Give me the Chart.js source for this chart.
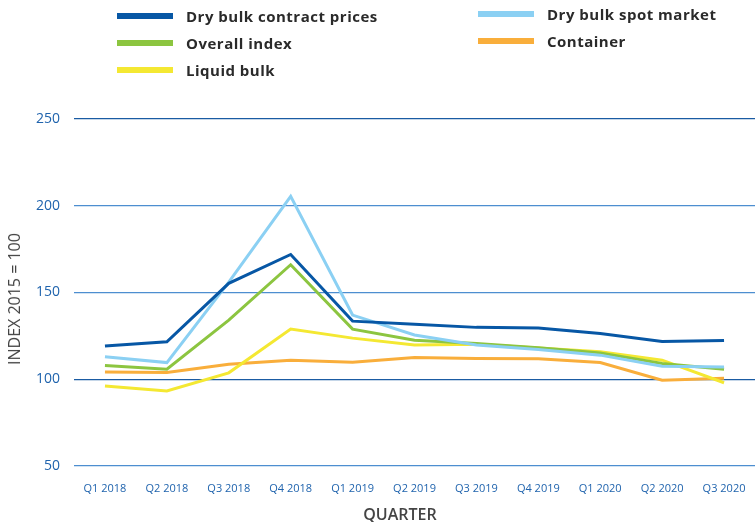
<!DOCTYPE html>
<html>
<head>
<meta charset="utf-8">
<script src="https://cdn.jsdelivr.net/npm/chart.js@4.4.1/dist/chart.umd.min.js"></script>
<style>
    body { margin: 0; background: #fff; }
    #wrap { position: relative; width: 755px; height: 522px; overflow: hidden; }
    #chart { position: absolute; left: 0; top: 0; }
    .leg { position: absolute; display: flex; align-items: center; height: 20px; white-space: nowrap;
           font-family: "Open Sans", sans-serif; font-weight: 700; font-size: 15px; letter-spacing: 0.5px; color: #2a2a2a; }
    .leg span.sw { display: inline-block; width: 56px; height: 6px; margin-right: 13px; }
    .axis-title { position: absolute; font-family: "Open Sans", sans-serif; color: #444; white-space: nowrap; }
    #xTitle { left: 300px; width: 200px; top: 504px; text-align: center; font-size: 16px; font-weight: 600; line-height: 20px; }
    #yTitle { left: 14px; top: 299px; font-size: 16px; font-weight: 500; line-height: 20px;
              transform: translate(-50%, -50%) rotate(-90deg); }
</style>
</head>
<body>
<div id="wrap">
    <canvas id="chart" width="755" height="522"></canvas>
    <div class="axis-title" id="xTitle">QUARTER</div>
    <div class="axis-title" id="yTitle">INDEX 2015 = 100</div>
</div>
<script>
const quarters = ["Q1 2018", "Q2 2018", "Q3 2018", "Q4 2018", "Q1 2019", "Q2 2019",
                  "Q3 2019", "Q4 2019", "Q1 2020", "Q2 2020", "Q3 2020"];

const dryBulkContract = [119.2, 121.6, 155.3, 171.9, 133.5, 131.7, 129.9, 129.5, 126.4, 121.8, 122.4];
const dryBulkSpot     = [112.9, 109.6, 156.0, 205.4, 137.0, 125.5, 119.7, 117.2, 113.9, 107.5, 107.1];
const overallIndex    = [107.9, 105.8, 134.1, 166.0, 128.9, 122.5, 120.6, 118.1, 115.2, 109.1, 105.8];
const container       = [104.2, 103.9, 108.7, 111.0, 109.8, 112.5, 112.0, 111.8, 109.6, 99.4, 100.6];
const liquidBulk      = [96.1, 93.3, 103.7, 128.9, 123.7, 119.7, 120.2, 118.0, 115.8, 111.0, 98.0];

const yTicks = [50, 100, 150, 200, 250];

// legend slots: [column left, row centre y]
const series = [
    { label: "Dry bulk contract prices", data: dryBulkContract, color: "#0757a5", leg: [117, 16] },
    { label: "Dry bulk spot market",     data: dryBulkSpot,     color: "#8bd0f3", leg: [478, 14] },
    { label: "Overall index",            data: overallIndex,    color: "#8cc540", leg: [117, 43] },
    { label: "Container",                data: container,       color: "#f9ae3b", leg: [478, 41] },
    { label: "Liquid bulk",              data: liquidBulk,      color: "#f4e832", leg: [117, 70] }
];

// ===== LEGEND =====
const wrap = document.getElementById("wrap");
series.forEach(s => {
    const div = document.createElement("div");
    div.className = "leg";
    div.style.left = s.leg[0] + "px";
    div.style.top = (s.leg[1] - 10) + "px";
    div.innerHTML = `<span class="sw" style="background:${s.color}"></span>${s.label}`;
    wrap.appendChild(div);
});

// draw order: contract on top
const drawOrder = { "Dry bulk contract prices": 0, "Dry bulk spot market": 1, "Overall index": 2, "Liquid bulk": 3, "Container": 4 };

const ctx = document.getElementById("chart").getContext("2d");

new Chart(ctx, {
    type: "line",
    data: {
        labels: quarters,
        datasets: series.map(s => ({
            label: s.label,
            data: s.data,
            borderColor: s.color,
            backgroundColor: s.color,
            borderWidth: 3,
            pointRadius: 0,
            tension: 0,
            order: drawOrder[s.label]
        }))
    },
    options: {
        responsive: false,
        animation: false,
        layout: { padding: { top: 119, right: 0, left: 0, bottom: 0 } },
        plugins: {
            legend: { display: false },
            tooltip: { enabled: false }
        },
        scales: {
            x: {
                offset: true,
                grid: { display: false, drawTicks: false },
                border: { display: false },
                afterFit: axis => {
                    axis.height = 56;
                    axis.paddingLeft = 0;
                    axis.paddingRight = 0;
                },
                ticks: {
                    color: "#1f63ad",
                    font: { family: "Open Sans", size: 11 },
                    maxRotation: 0,
                    autoSkip: false,
                    padding: 16
                }
            },
            y: {
                min: 50,
                max: 250,
                afterBuildTicks: axis => { axis.ticks = yTicks.map(v => ({ value: v })); },
                afterFit: axis => { axis.width = 74; },
                grid: {
                    color: c => (c.tick && (c.tick.value === 250 || c.tick.value === 100)) ? "#1a5ba3" : "#4d8ed0",
                    lineWidth: 1.3,
                    drawTicks: false
                },
                border: { display: false },
                ticks: {
                    color: "#1f63ad",
                    font: { family: "Open Sans", size: 14 },
                    padding: 14
                }
            }
        }
    }
});
</script>
</body>
</html>
